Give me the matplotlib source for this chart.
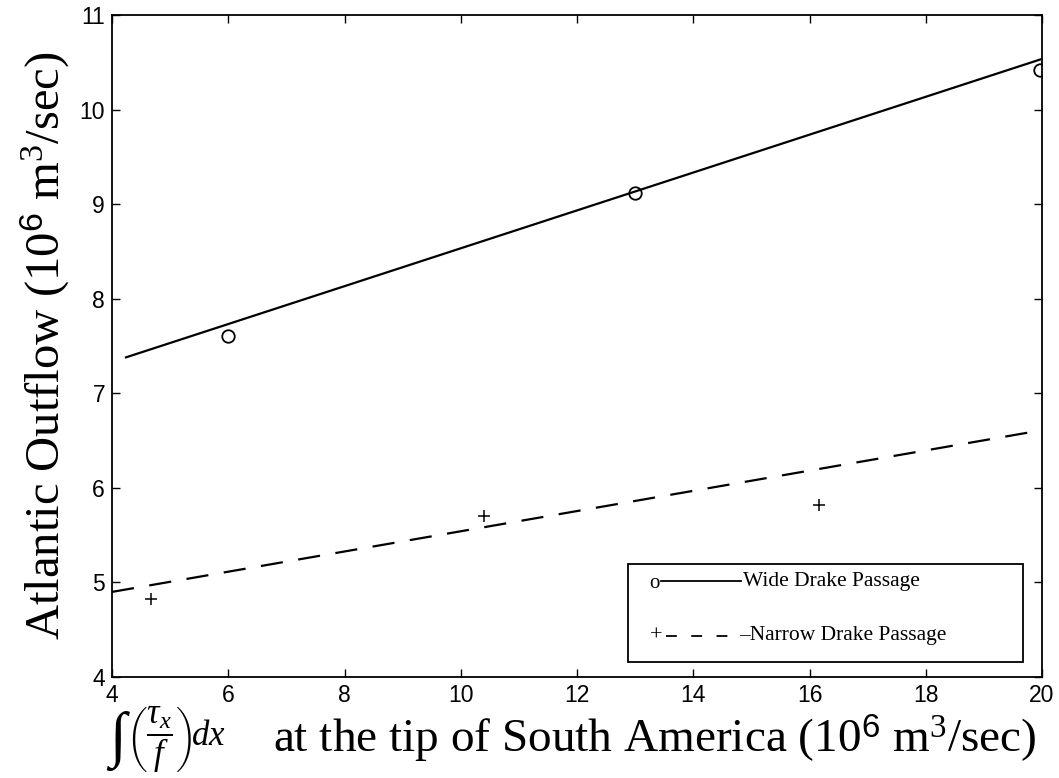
import matplotlib
matplotlib.use("Agg")
import matplotlib.pyplot as plt
from matplotlib.patches import Rectangle

plt.rcParams['mathtext.fontset'] = 'custom'
plt.rcParams['mathtext.rm'] = 'Liberation Serif'
plt.rcParams['mathtext.it'] = 'Liberation Serif:italic'
plt.rcParams['mathtext.sf'] = 'Liberation Sans'

# model runs: wind-stress integral vs. Atlantic outflow
wide_x = [6.0, 13.0, 19.97]
wide_y = [7.61, 9.12, 10.42]
narrow_x = [4.67, 10.4, 16.17]
narrow_y = [4.83, 5.70, 5.82]

# fitted lines (end points)
wide_fit_x = [4.24, 19.97]
wide_fit_y = [7.38, 10.53]
narrow_fit_x = [4.0, 20.0]
narrow_fit_y = [4.90, 6.61]

xticks = [4, 6, 8, 10, 12, 14, 16, 18, 20]
yticks = [4, 5, 6, 7, 8, 9, 10, 11]

fig = plt.figure(figsize=(10.59, 7.78), dpi=100)
ax = fig.add_axes([0.1058, 0.1298, 0.8782, 0.8509])

ax.plot(wide_fit_x, wide_fit_y, '-', color='black', lw=1.6)
ax.plot(wide_x, wide_y, 'o', mfc='none', mec='black', ms=9, mew=1.3)
ax.plot(narrow_fit_x, narrow_fit_y, color='black', lw=1.6, dashes=(10, 7))
ax.plot(narrow_x, narrow_y, '+', color='black', ms=9, mew=1.1)

ax.set_xlim(4, 20)
ax.set_ylim(4, 11)
ax.set_xticks(xticks)
ax.set_yticks(yticks)
ax.set_xticklabels([str(t) for t in xticks], family='Liberation Sans', fontsize=16.5)
ax.set_yticklabels([str(t) for t in yticks], family='Liberation Sans', fontsize=16.5)
ax.tick_params(direction='in', length=6, width=1, top=True, right=True, pad=5)
for sp in ax.spines.values():
    sp.set_linewidth(1.3)

ax.set_ylabel(r'Atlantic Outflow (10$^{\mathsf{6}}$ m$^3$/sec)',
              family='Liberation Serif', fontsize=35, labelpad=6)

# x label: integral of wind stress over f
fig.text(0.103, 0.047, '\u222b', family='Liberation Serif', fontsize=44,
         ha='left', va='center')
fig.text(0.119, 0.05, r'$\left(\dfrac{\tau_x}{f}\right)\!dx$',
         fontsize=25, ha='left', va='center')
fig.text(0.618, 0.05, r'at the tip of South America (10$^{\mathsf{6}}$ m$^3$/sec)',
         family='Liberation Serif', fontsize=34, ha='center', va='center')

# hand-drawn legend box
ax.add_patch(Rectangle((0.555, 0.0227), 0.425, 0.148, transform=ax.transAxes,
                       fill=False, lw=1.3, color='black', zorder=5))
ax.text(0.583, 0.142, 'o', transform=ax.transAxes, ha='center', va='center',
        family='Liberation Serif', fontsize=15)
ax.plot([0.590, 0.676], [0.145, 0.145], '-', color='black', lw=1.3,
        transform=ax.transAxes)
ax.text(0.678, 0.145, 'Wide Drake Passage', transform=ax.transAxes,
        ha='left', va='center', family='Liberation Serif', fontsize=15.5)
ax.text(0.585, 0.062, '+', transform=ax.transAxes, ha='center', va='center',
        family='Liberation Serif', fontsize=16)
ax.plot([0.596, 0.672], [0.062, 0.062], color='black', lw=1.3, dashes=(6, 8),
        transform=ax.transAxes)
ax.text(0.674, 0.062, '\u2013Narrow Drake Passage', transform=ax.transAxes,
        ha='left', va='center', family='Liberation Serif', fontsize=15.5)

fig.savefig('out.png', dpi=100)
